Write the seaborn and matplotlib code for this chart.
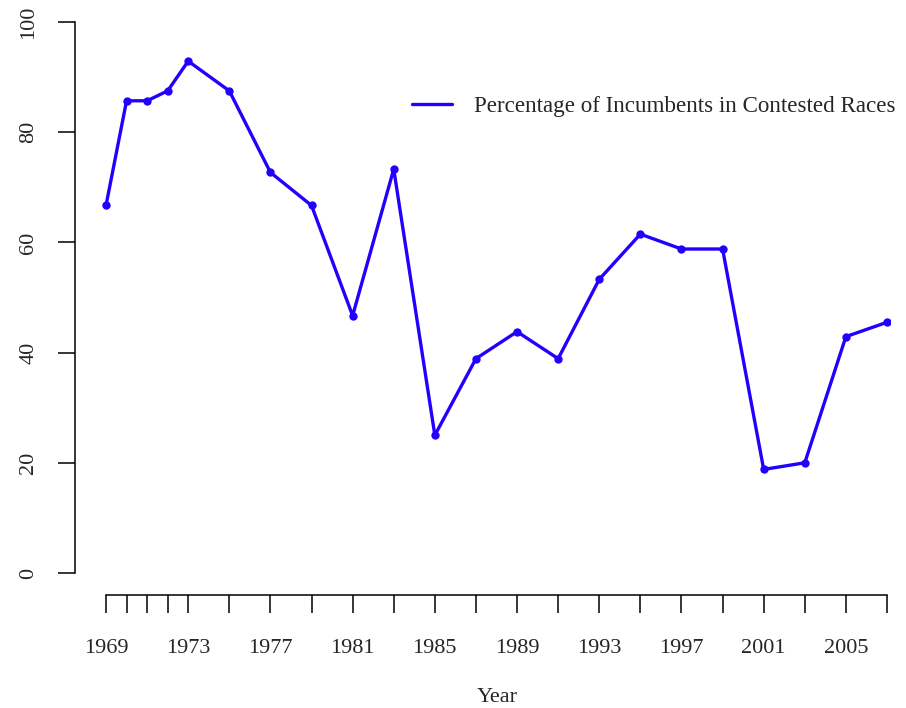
import matplotlib
matplotlib.use("Agg")
import matplotlib.pyplot as plt
import seaborn as sns
import pandas as pd

years = [1969, 1970, 1971, 1972, 1973, 1975, 1977, 1979, 1981, 1983, 1985,
         1987, 1989, 1991, 1993, 1995, 1997, 1999, 2001, 2003, 2005, 2007]
pct = [66.7, 85.7, 85.7, 87.5, 92.9, 87.5, 72.7, 66.7, 46.7, 73.3, 25.0,
       38.9, 43.8, 38.9, 53.3, 61.5, 58.8, 58.8, 18.8, 20.0, 42.9, 45.5]
label_years = [1969, 1973, 1977, 1981, 1985, 1989, 1993, 1997, 2001, 2005]
y_ticks = [0, 20, 40, 60, 80, 100]
series_name = "Percentage of Incumbents in Contested Races"

df = pd.DataFrame({"Year": years, "pct": pct})

sns.set_theme(style="white")
plt.rcParams['font.family'] = ['Liberation Serif', 'DejaVu Serif']

W, H = 906, 708
fig = plt.figure(figsize=(W / 100, H / 100), dpi=100)
# axes box in pixels: left 75, right 890, top 22, bottom 595
ax = fig.add_axes([75 / W, 1 - 595 / H, (890 - 75) / W, (595 - 22) / H])

sns.lineplot(data=df, x="Year", y="pct", ax=ax, color="#2200ff", lw=2.4,
             marker="o", markersize=6, markeredgewidth=0, label=series_name)

pxyr = (887 - 106) / 38
ax.set_xlim(1969 - 31 / pxyr, 2007 + 3 / pxyr)
pxu = (573 - 22) / 100
ax.set_ylim(-22 / pxu, 100)

for s in ["top", "right"]:
    ax.spines[s].set_visible(False)
ax.spines["left"].set_bounds(0, 100)
ax.spines["bottom"].set_bounds(1969, 2007)
for s in ["left", "bottom"]:
    ax.spines[s].set_color("black")
    ax.spines[s].set_linewidth(1.1)

ax.set_xticks(years)
ax.set_xticklabels([str(y) if y in label_years else "" for y in years])
ax.set_yticks(y_ticks)
ax.set_yticklabels([str(v) for v in y_ticks], rotation=90, va="center")
ax.tick_params(axis="x", length=13, width=1.1, color="black", direction="out",
               pad=19, labelsize=16, bottom=True)
ax.tick_params(axis="y", length=12.5, width=1.1, color="black", direction="out",
               pad=14, labelsize=16, left=True)
ax.set_xlabel("")
ax.set_ylabel("")
ax.grid(False)

fig.text(497 / W, 1 - 697 / H, "Year", ha="center", va="center", fontsize=16)

leg = ax.legend(loc="upper left", bbox_to_anchor=((412 - 75) / (890 - 75), 1 - (96 - 22) / (595 - 22)),
                frameon=False, fontsize=16.6, handlelength=1.75, handletextpad=0.95,
                borderaxespad=0, borderpad=0)
for h in leg.legend_handles:
    h.set_marker("")

fig.savefig("out.png", dpi=100)
